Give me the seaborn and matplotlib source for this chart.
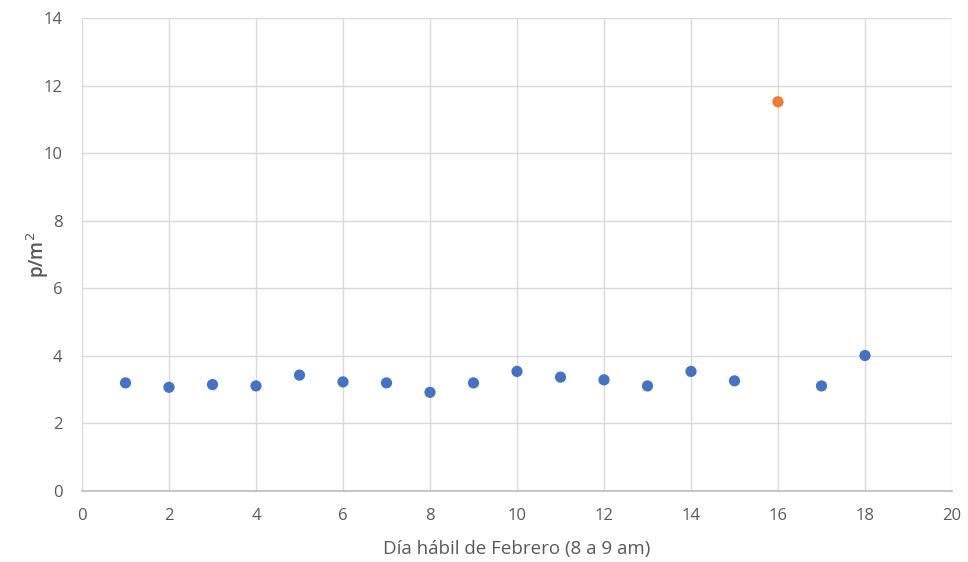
import matplotlib
matplotlib.use("Agg")
import matplotlib.pyplot as plt
import seaborn as sns
import pandas as pd

dias = list(range(1, 19))
valores = [3.20, 3.07, 3.15, 3.11, 3.43, 3.23, 3.20, 2.92, 3.20, 3.54,
           3.37, 3.29, 3.11, 3.54, 3.26, 11.52, 3.11, 4.01]
grupo = ["normal"] * 15 + ["atipico"] + ["normal"] * 2

x_ticks = list(range(0, 21, 2))
y_ticks = list(range(0, 15, 2))

sns.set_theme(style="white")
plt.rcParams['font.family'] = ['Open Sans', 'DejaVu Sans']

df = pd.DataFrame({"dia": dias, "valor": valores, "grupo": grupo})

fig = plt.figure(figsize=(9.68, 5.62), dpi=100)
ax = fig.add_axes([82/968, 1 - 491/562, (952 - 82)/968, (491 - 18)/562])

sns.scatterplot(data=df, x="dia", y="valor", hue="grupo",
                palette={"normal": "#4472C4", "atipico": "#ED7D31"},
                s=65, edgecolor="none", legend=False, ax=ax, zorder=3)

ax.set_xlim(0, 20)
ax.set_ylim(0, 14)
ax.set_xticks(x_ticks)
ax.set_yticks(y_ticks)
ax.grid(True, color="#D9D9D9", linewidth=1, zorder=0)
ax.set_axisbelow(True)
for s in ["top", "right", "left"]:
    ax.spines[s].set_visible(False)
ax.spines["bottom"].set_color("#BFBFBF")
ax.tick_params(axis="y", length=0, labelsize=12, labelcolor="#595959", pad=14)
ax.tick_params(axis="x", length=0, labelsize=12, labelcolor="#595959", pad=12)
ax.set_xlabel("Día hábil de Febrero (8 a 9 am)", fontsize=13.5, color="#595959", labelpad=12)
ax.set_ylabel("p/m$^2$", fontsize=13.5, color="#595959", fontweight="semibold")
ax.yaxis.set_label_coords(-0.036, 0.5)

fig.savefig("out.png", dpi=100)
